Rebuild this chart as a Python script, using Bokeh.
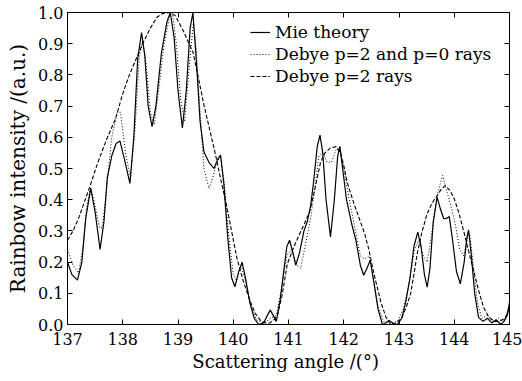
from bokeh.plotting import figure
from bokeh.models import LinearAxis, FixedTicker, PrintfTickFormatter, CustomJSTickFormatter, Legend, LegendItem
from bokeh.embed import file_html
from bokeh.resources import INLINE

# ---------------- data ----------------
mie_angle = [137.00, 137.08, 137.18, 137.26, 137.33, 137.42, 137.50, 137.59, 137.66, 137.72,
             137.80, 137.88, 137.95, 138.03, 138.13, 138.20, 138.27, 138.34, 138.40, 138.46,
             138.53, 138.60, 138.70, 138.80, 138.86, 138.93, 139.00, 139.08, 139.15, 139.22,
             139.27, 139.33, 139.40, 139.47, 139.56, 139.65, 139.72, 139.77, 139.83, 139.90,
             139.97, 140.03, 140.10, 140.16, 140.22, 140.30, 140.38, 140.46, 140.55, 140.62,
             140.67, 140.72, 140.78, 140.85, 140.92, 140.97, 141.02, 141.08, 141.13, 141.20,
             141.28, 141.34, 141.40, 141.45, 141.52, 141.57, 141.62, 141.68, 141.76, 141.83,
             141.89, 141.93, 141.98, 142.05, 142.15, 142.22, 142.30, 142.36, 142.42, 142.48,
             142.55, 142.62, 142.70, 142.76, 142.82, 142.90, 142.97, 143.05, 143.12, 143.20,
             143.27, 143.34, 143.40, 143.46, 143.51, 143.56, 143.62, 143.69, 143.75, 143.81,
             143.86, 143.91, 143.97, 144.04, 144.11, 144.18, 144.23, 144.26, 144.31, 144.37,
             144.44, 144.52, 144.60, 144.68, 144.76, 144.84, 144.90, 144.96, 145.00]
mie_intensity = [0.20, 0.16, 0.142, 0.20, 0.34, 0.436, 0.36, 0.241, 0.33, 0.47,
                 0.54, 0.58, 0.588, 0.53, 0.452, 0.60, 0.85, 0.936, 0.86, 0.70,
                 0.634, 0.70, 0.87, 0.97, 1.00, 0.92, 0.75, 0.63, 0.75, 0.95,
                 1.00, 0.85, 0.65, 0.553, 0.52, 0.50, 0.53, 0.543, 0.45, 0.28,
                 0.15, 0.121, 0.17, 0.20, 0.15, 0.07, 0.02, 0.0, 0.005, 0.03,
                 0.046, 0.03, 0.01, 0.08, 0.18, 0.25, 0.27, 0.23, 0.19, 0.23,
                 0.30, 0.33, 0.38, 0.45, 0.57, 0.607, 0.55, 0.40, 0.281, 0.40,
                 0.54, 0.57, 0.50, 0.40, 0.318, 0.27, 0.19, 0.158, 0.18, 0.206,
                 0.13, 0.05, 0.0, 0.005, 0.013, 0.003, 0.0, 0.02, 0.07, 0.15,
                 0.25, 0.296, 0.25, 0.16, 0.12, 0.18, 0.33, 0.408, 0.37, 0.339,
                 0.34, 0.346, 0.27, 0.17, 0.13, 0.20, 0.28, 0.303, 0.22, 0.10,
                 0.023, 0.01, 0.02, 0.005, 0.015, 0.0, 0.01, 0.03, 0.07]

debye20_angle = [137.00, 137.10, 137.20, 137.28, 137.35, 137.42, 137.50, 137.58, 137.63, 137.70,
                 137.80, 137.90, 137.96, 138.05, 138.14, 138.22, 138.30, 138.36, 138.42, 138.50,
                 138.57, 138.65, 138.75, 138.85, 138.90, 138.97, 139.05, 139.12, 139.20, 139.28,
                 139.33, 139.40, 139.47, 139.56, 139.63, 139.70, 139.77, 139.84, 139.92, 140.00,
                 140.06, 140.14, 140.22, 140.32, 140.42, 140.55, 140.68, 140.78, 140.88, 140.97,
                 141.05, 141.15, 141.22, 141.30, 141.40, 141.48, 141.55, 141.62, 141.70, 141.78,
                 141.86, 141.93, 142.00, 142.10, 142.20, 142.30, 142.38, 142.46, 142.54, 142.62,
                 142.72, 142.85, 142.97, 143.08, 143.18, 143.28, 143.36, 143.44, 143.51, 143.60,
                 143.70, 143.79, 143.86, 143.94, 144.02, 144.10, 144.17, 144.24, 144.28, 144.35,
                 144.42, 144.50, 144.60, 144.70, 144.80, 144.90, 145.00]
debye20_intensity = [0.24, 0.19, 0.165, 0.25, 0.38, 0.44, 0.38, 0.31, 0.31, 0.42,
                     0.60, 0.68, 0.68, 0.55, 0.47, 0.62, 0.86, 0.91, 0.84, 0.68,
                     0.64, 0.75, 0.90, 0.99, 1.00, 0.90, 0.72, 0.65, 0.82, 0.97,
                     0.88, 0.68, 0.50, 0.436, 0.47, 0.52, 0.54, 0.45, 0.28, 0.16,
                     0.14, 0.19, 0.14, 0.06, 0.015, 0.005, 0.02, 0.03, 0.12, 0.22,
                     0.24, 0.19, 0.18, 0.25, 0.34, 0.44, 0.54, 0.55, 0.52, 0.52,
                     0.56, 0.57, 0.50, 0.40, 0.31, 0.22, 0.21, 0.22, 0.14, 0.06,
                     0.01, 0.005, 0.01, 0.05, 0.13, 0.24, 0.27, 0.22, 0.20, 0.30,
                     0.42, 0.478, 0.43, 0.38, 0.32, 0.24, 0.22, 0.28, 0.29, 0.18,
                     0.07, 0.02, 0.03, 0.01, 0.02, 0.01, 0.06]

debye2_angle = [137.00, 137.10, 137.20, 137.30, 137.42, 137.55, 137.70, 137.87, 138.00, 138.12,
                138.24, 138.36, 138.50, 138.62, 138.72, 138.85, 138.95, 139.01, 139.10, 139.20,
                139.27, 139.37, 139.47, 139.58, 139.68, 139.78, 139.89, 139.98, 140.07, 140.18,
                140.31, 140.40, 140.49, 140.58, 140.66, 140.74, 140.80, 140.88, 140.98, 141.10,
                141.20, 141.28, 141.38, 141.46, 141.52, 141.58, 141.66, 141.76, 141.86, 141.94,
                142.00, 142.06, 142.18, 142.30, 142.38, 142.45, 142.55, 142.67, 142.76, 142.85,
                142.95, 143.05, 143.14, 143.21, 143.27, 143.33, 143.42, 143.51, 143.60, 143.69,
                143.77, 143.84, 143.92, 143.99, 144.08, 144.17, 144.26, 144.35, 144.44, 144.53,
                144.62, 144.72, 144.82, 144.92, 145.00]
debye2_intensity = [0.27, 0.30, 0.34, 0.39, 0.45, 0.52, 0.59, 0.66, 0.74, 0.80,
                    0.85, 0.90, 0.95, 0.985, 0.997, 1.0, 0.99, 0.97, 0.94, 0.90,
                    0.874, 0.79, 0.703, 0.62, 0.543, 0.46, 0.372, 0.29, 0.21, 0.14,
                    0.073, 0.035, 0.014, 0.005, 0.005, 0.015, 0.03, 0.09, 0.195, 0.25,
                    0.29, 0.32, 0.36, 0.42, 0.47, 0.52, 0.55, 0.566, 0.57, 0.55,
                    0.51, 0.457, 0.39, 0.33, 0.29, 0.244, 0.16, 0.073, 0.025, 0.0,
                    0.005, 0.02, 0.06, 0.098, 0.16, 0.227, 0.30, 0.355, 0.39, 0.413,
                    0.435, 0.445, 0.43, 0.408, 0.36, 0.30, 0.235, 0.173, 0.11, 0.055,
                    0.025, 0.01, 0.01, 0.02, 0.05]

x_ticks = [137, 138, 139, 140, 141, 142, 143, 144, 145]
y_ticks = [0.0, 0.1, 0.2, 0.3, 0.4, 0.5, 0.6, 0.7, 0.8, 0.9, 1.0]
labels = ["Mie theory", "Debye p=2 and p=0 rays", "Debye p=2 rays"]

FONT = "DejaVu Serif"

p = figure(width=522, height=381, output_backend="svg", toolbar_location=None,
           x_range=(137, 145), y_range=(0, 1.0),
           min_border_left=67, min_border_right=13, min_border_top=12, min_border_bottom=57)
p.outline_line_color = "black"
p.outline_line_width = 1
p.xgrid.grid_line_color = None
p.ygrid.grid_line_color = None
p.background_fill_color = "white"
p.border_fill_color = "white"

r_mie = p.line(mie_angle, mie_intensity, line_color="black", line_width=1.2)
r_d20 = p.line(debye20_angle, debye20_intensity, line_color="black", line_width=1.0, line_dash="1 2")
r_d2 = p.line(debye2_angle, debye2_intensity, line_color="black", line_width=1.1, line_dash="4 2")


def style_axis(ax, ticks, size):
    ax.ticker = FixedTicker(ticks=ticks)
    ax.major_tick_in = 5
    ax.major_tick_out = 0
    ax.minor_tick_line_color = None
    ax.axis_line_color = "black"
    ax.major_tick_line_color = "black"
    ax.major_label_text_font = FONT
    ax.major_label_text_font_size = size
    ax.major_label_text_color = "black"
    ax.axis_label_text_font = FONT
    ax.axis_label_text_font_style = "normal"
    ax.axis_label_text_color = "black"


xa = p.xaxis[0]
style_axis(xa, x_ticks, "16px")
xa.major_label_standoff = 8
xa.axis_label = "Scattering angle  /(\u00b0)"
xa.axis_label_text_font_size = "18px"
xa.axis_label_standoff = 3

ya = p.yaxis[0]
style_axis(ya, y_ticks, "16px")
ya.formatter = PrintfTickFormatter(format="%.1f")
ya.major_label_standoff = 4
ya.axis_label = "Rainbow intensity /(a.u.)"
ya.axis_label_text_font_size = "20px"
ya.axis_label_standoff = 5

# unlabelled tick axes on top and right (ticks only)
blank = CustomJSTickFormatter(code="return '';")
top = LinearAxis(formatter=blank)
style_axis(top, x_ticks, "10px")
top.major_label_standoff = 0
p.add_layout(top, "above")

right = LinearAxis(formatter=blank)
style_axis(right, y_ticks, "10px")
right.major_label_standoff = 0
p.add_layout(right, "right")

legend = Legend(items=[LegendItem(label=labels[0], renderers=[r_mie]),
                       LegendItem(label=labels[1], renderers=[r_d20]),
                       LegendItem(label=labels[2], renderers=[r_d2])],
                location=(183, 237), orientation="vertical",
                padding=0, margin=0, spacing=0,
                glyph_width=20, glyph_height=22, label_height=22, label_standoff=5,
                label_text_font=FONT, label_text_font_size="17px", label_text_color="black",
                border_line_color=None, background_fill_alpha=0)
p.add_layout(legend, "center")

open("out.html", "w").write(file_html(p, INLINE))
